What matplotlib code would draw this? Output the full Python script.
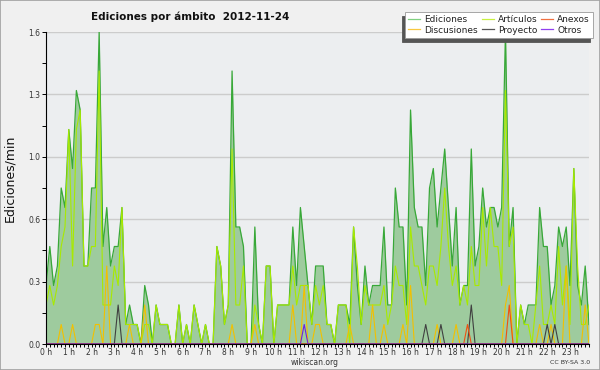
import numpy as np
import matplotlib
matplotlib.use("Agg")
import matplotlib.pyplot as plt
from matplotlib.patches import Rectangle

# 10-minute samples, 0:00 .. 23:50 (edits per minute)
ediciones = [
    0.3, 0.5, 0.3, 0.4, 0.8, 0.7, 1.1, 0.9, 1.3, 1.2,
    0.4, 0.4, 0.8, 0.8, 1.6, 0.5, 0.7, 0.4, 0.5, 0.5,
    0.7, 0.1, 0.2, 0.1, 0.1, 0.0, 0.3, 0.2, 0.0, 0.2,
    0.1, 0.1, 0.1, 0.0, 0.0, 0.2, 0.0, 0.1, 0.0, 0.2,
    0.1, 0.0, 0.1, 0.0, 0.0, 0.5, 0.4, 0.1, 0.2, 1.4,
    0.6, 0.6, 0.5, 0.0, 0.0, 0.6, 0.1, 0.0, 0.4, 0.4,
    0.0, 0.2, 0.2, 0.2, 0.2, 0.6, 0.3, 0.7, 0.5, 0.3,
    0.1, 0.4, 0.4, 0.4, 0.1, 0.1, 0.0, 0.2, 0.2, 0.2,
    0.1, 0.6, 0.3, 0.1, 0.4, 0.2, 0.3, 0.3, 0.3, 0.6,
    0.2, 0.2, 0.8, 0.6, 0.6, 0.2, 1.2, 0.7, 0.6, 0.6,
    0.3, 0.8, 0.9, 0.6, 0.8, 1.0, 0.7, 0.4, 0.7, 0.2,
    0.3, 0.3, 1.0, 0.4, 0.5, 0.8, 0.6, 0.7, 0.7, 0.6,
    0.7, 1.6, 0.5, 0.7, 0.0, 0.2, 0.1, 0.2, 0.2, 0.2,
    0.7, 0.5, 0.5, 0.2, 0.3, 0.6, 0.5, 0.6, 0.3, 0.9,
    0.3, 0.2, 0.4, 0.1,
]
articulos = [
    0.2, 0.3, 0.2, 0.3, 0.5, 0.6, 1.1, 0.4, 1.1, 1.2,
    0.4, 0.4, 0.5, 0.5, 1.4, 0.2, 0.2, 0.2, 0.4, 0.3,
    0.7, 0.1, 0.1, 0.1, 0.1, 0.0, 0.1, 0.1, 0.0, 0.2,
    0.1, 0.1, 0.1, 0.0, 0.0, 0.2, 0.0, 0.1, 0.0, 0.2,
    0.1, 0.0, 0.1, 0.0, 0.0, 0.5, 0.4, 0.1, 0.2, 1.0,
    0.2, 0.2, 0.4, 0.0, 0.0, 0.2, 0.1, 0.0, 0.4, 0.4,
    0.0, 0.2, 0.2, 0.2, 0.2, 0.4, 0.2, 0.3, 0.3, 0.3,
    0.1, 0.3, 0.2, 0.3, 0.1, 0.1, 0.0, 0.2, 0.2, 0.2,
    0.0, 0.6, 0.4, 0.1, 0.3, 0.2, 0.2, 0.2, 0.2, 0.3,
    0.1, 0.2, 0.4, 0.3, 0.3, 0.1, 0.6, 0.4, 0.4, 0.3,
    0.2, 0.4, 0.4, 0.3, 0.5, 0.8, 0.5, 0.3, 0.4, 0.2,
    0.3, 0.2, 0.5, 0.3, 0.3, 0.7, 0.4, 0.7, 0.5, 0.5,
    0.3, 1.3, 0.5, 0.6, 0.0, 0.2, 0.1, 0.1, 0.0, 0.2,
    0.4, 0.1, 0.1, 0.2, 0.1, 0.5, 0.2, 0.4, 0.1, 0.9,
    0.4, 0.1, 0.1, 0.2,
]
# sparse series: {sample index: value}
discusiones_pts = {4: 0.1, 7: 0.1, 13: 0.1, 14: 0.1, 16: 0.4, 22: 0.1, 26: 0.2,
                   49: 0.1, 55: 0.1, 65: 0.2, 68: 0.3, 71: 0.1, 72: 0.1, 80: 0.1,
                   86: 0.2, 89: 0.1, 94: 0.1, 96: 0.3, 103: 0.1, 108: 0.1,
                   121: 0.2, 122: 0.3, 130: 0.1, 133: 0.1, 137: 0.4, 142: 0.2}
proyecto_pts = {19: 0.2, 100: 0.1, 104: 0.1, 112: 0.2, 132: 0.1, 134: 0.1}
anexos_pts = {111: 0.1, 122: 0.2}
otros_pts = {68: 0.1}

hour_labels = [f"{h} h" for h in range(24)]
ytick_vals = [0.0, 0.32, 0.64, 0.96, 1.28, 1.6]
ytick_labels = ["0.0", "0.3", "0.6", "1.0", "1.3", "1.6"]

n = len(ediciones)
x = np.arange(n)


def expand(pts):
    arr = np.zeros(n)
    for k, v in pts.items():
        arr[k] = v
    return arr


discusiones = expand(discusiones_pts)
proyecto = expand(proyecto_pts)
anexos = expand(anexos_pts)
otros = expand(otros_pts)

fig = plt.figure(figsize=(6, 3.7), dpi=100)
fig.patch.set_facecolor("#f0f0f0")
ax = fig.add_axes([46 / 600, 26 / 370, 543 / 600, 312 / 370])
ax.set_facecolor("#eceef0")

ax.fill_between(x, ediciones, color="#9ecb9e", lw=0, zorder=2)
ax.plot(x, ediciones, color="#38a838", lw=0.9, zorder=3)
ax.plot(x, articulos, color="#a8ea00", lw=0.8, zorder=4)
ax.plot(x, discusiones, color="#f2c000", lw=0.8, zorder=5)
ax.plot(x, proyecto, color="#404040", lw=0.8, zorder=6)
ax.plot(x, anexos, color="#f05010", lw=0.8, zorder=7)
ax.plot(x, otros, color="#7020e0", lw=0.8, zorder=8)

ax.set_xlim(0, n - 1)
ax.set_ylim(0, 1.6)
ax.set_yticks(ytick_vals)
ax.set_yticklabels(ytick_labels)
ax.set_yticks(np.array(ytick_vals[:-1]) + 0.16, minor=True)
ax.set_xticks(np.arange(24) * 6)
ax.set_xticklabels(hour_labels)
ax.set_xticks(x, minor=True)
ax.tick_params(axis="both", which="both", direction="out", colors="black",
               width=0.7, labelsize=5.5, labelcolor="#333333")
ax.tick_params(axis="y", which="both", length=3.0, pad=1.0)
ax.tick_params(axis="x", which="major", length=2.5, pad=0.3)
ax.tick_params(axis="x", which="minor", length=2.0)
ax.yaxis.grid(True, color="#cccccc", lw=1.0)
ax.set_axisbelow(True)
for s in ("top", "right"):
    ax.spines[s].set_visible(False)
for s in ("left", "bottom"):
    ax.spines[s].set_color("black")
    ax.spines[s].set_linewidth(0.8)
    ax.spines[s].set_zorder(10)

fig.text(190 / 600, 1 - 17 / 370, "Ediciones por ámbito  2012-11-24",
         ha="center", va="center", fontsize=7.5, fontweight="bold", color="#111111")
fig.text(10 / 600, 1 - 178 / 370, "Ediciones/min", rotation=90,
         ha="center", va="center", fontsize=9, color="#111111")
fig.text(315 / 600, 1 - 362.5 / 370, "wikiscan.org", ha="center", va="center",
         fontsize=5.5, color="#333333")
fig.text(590 / 600, 1 - 362.5 / 370, "CC BY-SA 3.0", ha="right", va="center",
         fontsize=4.5, color="#333333")

handles = [
    plt.Line2D([], [], color="#80d080", lw=0.9),
    plt.Line2D([], [], color="#f8c840", lw=0.9),
    plt.Line2D([], [], color="#c8f040", lw=0.9),
    plt.Line2D([], [], color="#555555", lw=0.9),
    plt.Line2D([], [], color="#f07040", lw=0.9),
    plt.Line2D([], [], color="#9040f0", lw=0.9),
]
labels = ["Ediciones", "Discusiones", "Artículos", "Proyecto", "Anexos", "Otros"]
leg = fig.legend(handles, labels, ncol=3, loc="upper right",
                 bbox_to_anchor=(593 / 600, 1 - 12 / 370), bbox_transform=fig.transFigure,
                 fontsize=6.5, frameon=True, fancybox=False, borderaxespad=0,
                 handlelength=1.3, handletextpad=0.45, columnspacing=0.45,
                 labelspacing=0.15, borderpad=0.35,
                 shadow={"ox": -2.5, "oy": -3, "facecolor": "#555555",
                         "edgecolor": "#555555", "alpha": 1})
leg.get_frame().set_edgecolor("#999999")
leg.get_frame().set_linewidth(0.6)
leg.get_frame().set_facecolor("white")
for t in leg.get_texts():
    t.set_color("#222222")

fig.patches.append(Rectangle((0, 0), 1, 1, transform=fig.transFigure, fill=False,
                             edgecolor="#a0a0a0", lw=1.2))

fig.savefig("out.png", dpi=100, facecolor=fig.get_facecolor())
